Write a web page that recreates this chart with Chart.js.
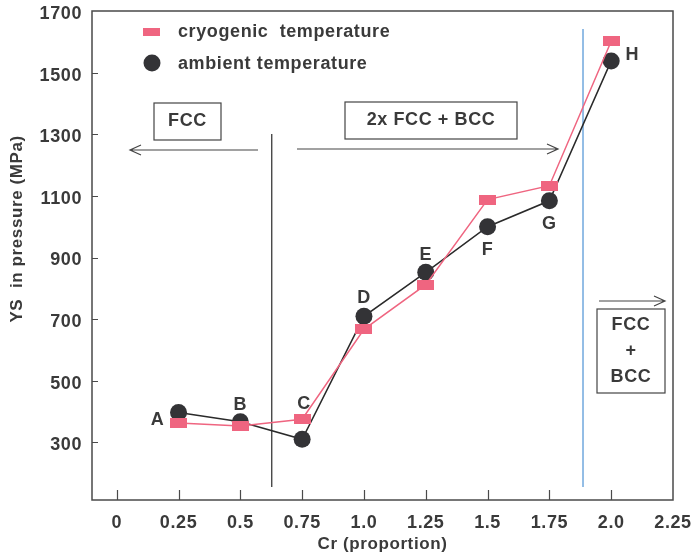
<!DOCTYPE html>
<html>
<head>
<meta charset="utf-8">
<script src="https://cdn.jsdelivr.net/npm/chart.js@4.4.1/dist/chart.umd.min.js"></script>
<style>
  body { margin: 0; background: #fff; }
  #wrap { width: 693px; height: 556px; position: relative; }
</style>
</head>
<body>
<div id="wrap"><canvas id="chart"></canvas></div>
<script>
// data
const crValues = [0.25, 0.5, 0.75, 1.0, 1.25, 1.5, 1.75, 2.0];
const pointNames = ['A', 'B', 'C', 'D', 'E', 'F', 'G', 'H'];
const cryogenicYS = [363, 353, 375, 667, 812, 1088, 1133, 1602];
const ambientYS = [397, 367, 310, 709, 852, 1000, 1084, 1538];
const xTicks = [0, 0.25, 0.5, 0.75, 1.0, 1.25, 1.5, 1.75, 2.0, 2.25];
const xTickText = ['0', '0.25', '0.5', '0.75', '1.0', '1.25', '1.5', '1.75', '2.0', '2.25'];
const yTicks = [300, 500, 700, 900, 1100, 1300, 1500, 1700];

const PINK = '#ef6580';
const DARK = '#333336';
const TEXT = '#3a3a3a';
const FONT = "'Liberation Sans', Arial, sans-serif";

// pink flat rectangle marker
const rectMarker = document.createElement('canvas');
rectMarker.width = 17; rectMarker.height = 10;
const rctx = rectMarker.getContext('2d');
rctx.fillStyle = PINK;
rctx.fillRect(0, 0, 17, 10);

// where each point letter sits relative to the round marker (px)
const labelOffsets = [[-21, 8], [0, -17], [2, -35], [0, -18], [0, -17], [0, 23], [0, 23], [21, -6]];

function arrow(ctx, x1, y, x2) {
  const dir = x2 > x1 ? 1 : -1;
  ctx.beginPath();
  ctx.moveTo(x1, y); ctx.lineTo(x2, y);
  ctx.moveTo(x2 - dir * 11, y - 5); ctx.lineTo(x2, y); ctx.lineTo(x2 - dir * 11, y + 5);
  ctx.stroke();
}

function boxText(ctx, x1, y1, x2, y2, lines) {
  ctx.strokeRect(x1, y1, x2 - x1, y2 - y1);
  const cx = (x1 + x2) / 2, cy = (y1 + y2) / 2;
  const lh = 26;
  lines.forEach((t, i) => {
    ctx.fillText(t, cx, cy + (i - (lines.length - 1) / 2) * lh);
  });
}

const decorations = {
  id: 'decorations',
  beforeDraw(chart) {
    // the scanned figure uses a wide bold face
    chart.ctx.letterSpacing = '0.6px';
  },
  beforeDatasetsDraw(chart) {
    const { ctx, chartArea: a, scales: { x, y } } = chart;
    ctx.save();
    // frame
    ctx.strokeStyle = '#4a4a4a';
    ctx.lineWidth = 1.5;
    ctx.strokeRect(a.left, a.top, a.right - a.left, a.bottom - a.top);
    // inward ticks
    ctx.lineWidth = 1.2;
    ctx.beginPath();
    xTicks.forEach(v => {
      if (v >= 2.25) return;
      const px = Math.round(x.getPixelForValue(v)) + 0.5;
      ctx.moveTo(px, a.bottom); ctx.lineTo(px, a.bottom - 10);
    });
    yTicks.forEach(v => {
      if (v >= 1700) return;
      const py = Math.round(y.getPixelForValue(v)) + 0.5;
      ctx.moveTo(a.left, py); ctx.lineTo(a.left + 6, py);
    });
    ctx.stroke();

    // phase boundaries
    ctx.lineWidth = 1.3;
    ctx.strokeStyle = '#3a3a3a';
    const bx = x.getPixelForValue(0.627);
    ctx.beginPath(); ctx.moveTo(bx, 134); ctx.lineTo(bx, 487); ctx.stroke();
    ctx.strokeStyle = '#5b9bd8';
    const bx2 = x.getPixelForValue(1.886);
    ctx.beginPath(); ctx.moveTo(bx2, 29); ctx.lineTo(bx2, 487); ctx.stroke();

    // arrows and boxes
    ctx.strokeStyle = '#444';
    ctx.lineWidth = 1.2;
    arrow(ctx, 258, 150, 130);
    arrow(ctx, 297, 149, 558);
    arrow(ctx, 599, 301, 665);
    ctx.fillStyle = TEXT;
    ctx.font = 'bold 18px ' + FONT;
    ctx.textAlign = 'center';
    ctx.textBaseline = 'middle';
    boxText(ctx, 154, 103, 221, 140, ['FCC']);
    boxText(ctx, 345, 102, 517, 139, ['2x FCC + BCC']);
    boxText(ctx, 597, 309, 665, 393, ['FCC', '+', 'BCC']);

    // legend
    ctx.textAlign = 'left';
    ctx.drawImage(rectMarker, 143, 28, 17, 8);
    ctx.fillText('cryogenic  temperature', 178, 32);
    ctx.fillStyle = DARK;
    ctx.beginPath(); ctx.arc(152, 63, 8.5, 0, Math.PI * 2); ctx.fill();
    ctx.fillStyle = TEXT;
    ctx.fillText('ambient temperature', 178, 64);
    ctx.restore();
  },
  afterDatasetsDraw(chart) {
    const { ctx } = chart;
    const meta = chart.getDatasetMeta(1);
    ctx.save();
    ctx.fillStyle = TEXT;
    ctx.font = 'bold 18px ' + FONT;
    ctx.textAlign = 'center';
    ctx.textBaseline = 'middle';
    meta.data.forEach((pt, i) => {
      const [dx, dy] = labelOffsets[i];
      ctx.fillText(pointNames[i], pt.x + dx, pt.y + dy);
    });
    ctx.restore();
  }
};

new Chart(document.getElementById('chart'), {
  type: 'line',
  data: {
    datasets: [
      {
        label: 'cryogenic temperature',
        data: crValues.map((v, i) => ({ x: v, y: cryogenicYS[i] })),
        borderColor: PINK,
        borderWidth: 1.5,
        pointStyle: rectMarker,
        pointRadius: 8,
        tension: 0
      },
      {
        label: 'ambient temperature',
        data: crValues.map((v, i) => ({ x: v, y: ambientYS[i] })),
        borderColor: '#2a2a2a',
        borderWidth: 1.5,
        pointStyle: 'circle',
        pointRadius: 8.5,
        pointBackgroundColor: DARK,
        pointBorderColor: DARK,
        pointBorderWidth: 0,
        tension: 0
      }
    ]
  },
  options: {
    responsive: true,
    maintainAspectRatio: false,
    animation: false,
    events: [],
    layout: { padding: { top: 11, right: 20, left: 0, bottom: 0 } },
    plugins: { legend: { display: false }, tooltip: { enabled: false } },
    scales: {
      x: {
        type: 'linear',
        min: -0.1,
        max: 2.25,
        afterBuildTicks: s => { s.ticks = xTicks.map(v => ({ value: v })); },
        afterFit: s => { s.height = 56; s.paddingLeft = 0; s.paddingRight = 0; },
        grid: { display: false, drawTicks: false },
        border: { display: false },
        ticks: {
          padding: 12,
          color: TEXT,
          font: { family: FONT, size: 18, weight: 'bold' },
          maxRotation: 0,
          autoSkip: false,
          callback: (v) => xTickText[xTicks.indexOf(v)]
        },
        title: {
          display: true,
          text: 'Cr (proportion)',
          color: TEXT,
          font: { family: FONT, size: 17, weight: 'bold' },
          padding: { top: 0, bottom: 1 }
        }
      },
      y: {
        type: 'linear',
        min: 113,
        max: 1700,
        afterBuildTicks: s => { s.ticks = yTicks.map(v => ({ value: v })); },
        afterFit: s => { s.width = 92; s.paddingTop = 0; s.paddingBottom = 0; },
        grid: { display: false, drawTicks: false },
        border: { display: false },
        ticks: {
          padding: 10,
          labelOffset: 3,
          color: TEXT,
          font: { family: FONT, size: 18, weight: 'bold' },
          autoSkip: false,
          callback: (v) => String(v)
        },
        title: {
          display: true,
          // leading blanks push the centred text up, as in the original
          text: '          YS  in pressure (MPa)',
          color: TEXT,
          font: { family: FONT, size: 17, weight: 'bold' },
          padding: { top: 7, bottom: 0 }
        }
      }
    }
  },
  plugins: [decorations]
});
</script>
</body>
</html>
